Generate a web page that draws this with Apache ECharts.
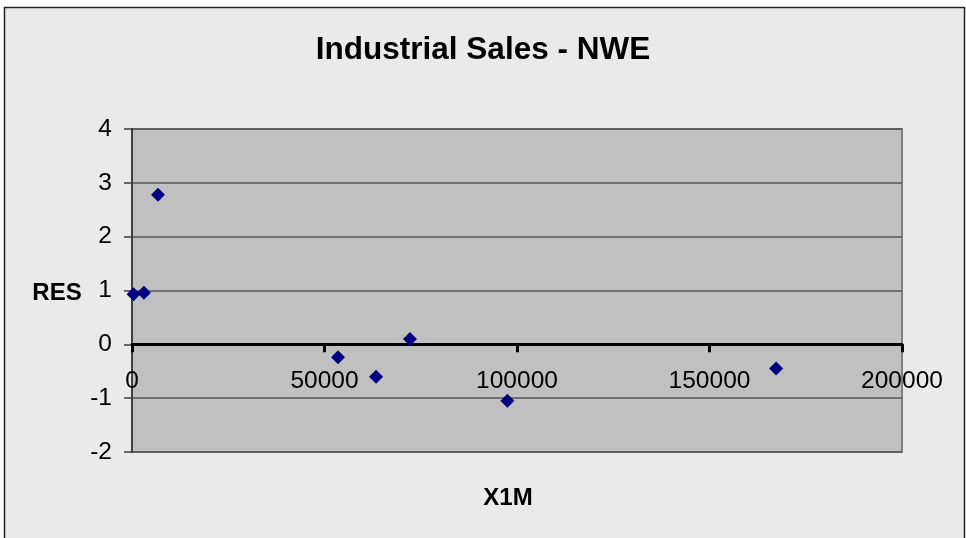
<!DOCTYPE html>
<html>
<head>
<meta charset="utf-8">
<script src="https://cdn.jsdelivr.net/npm/echarts@6/dist/echarts.min.js"></script>
<style>
html,body{margin:0;padding:0;background:#ffffff;}
#chart{width:966px;height:538px;}
</style>
</head>
<body>
<div id="chart"></div>
<script>
// Data
const x1m = [400, 3100, 6750, 53500, 63400, 72200, 97500, 167300];
const res = [0.93, 0.96, 2.78, -0.24, -0.60, 0.10, -1.05, -0.45];
const titleText = 'Industrial Sales - NWE';
const xName = 'X1M';
const yName = 'RES';

const points = x1m.map((x, i) => [x, res[i]]);

const yMin = -2, yMax = 4;
const gridTop = 129, gridBottom = 86, chartH = 538;
const plotH = chartH - gridTop - gridBottom;
const zeroOffset = -plotH * (0 - yMin) / (yMax - yMin);

const chart = echarts.init(document.getElementById('chart'));
const font = 'Liberation Sans, Arial, sans-serif';
chart.setOption({
  animation: false,
  backgroundColor: '#ffffff',
  graphic: [{
    type: 'rect',
    z: -10,
    shape: {x: 4.5, y: 7.5, width: 960, height: 540},
    style: {fill: '#eaeaea', stroke: '#222222', lineWidth: 1.5}
  }],
  title: [
    {text: titleText, left: 'center', top: 29,
     textStyle: {fontFamily: font, fontSize: 31.5, fontWeight: 'bold', color: '#000'}},
    {text: xName, left: 503, top: 481, textAlign: 'center',
     textStyle: {fontFamily: font, fontSize: 24, fontWeight: 'bold', color: '#000'}},
    {text: yName, left: 52, top: 276, textAlign: 'center',
     textStyle: {fontFamily: font, fontSize: 24, fontWeight: 'bold', color: '#000'}}
  ],
  grid: {
    left: 132, top: gridTop, right: 64, bottom: gridBottom,
    show: true, backgroundColor: '#c0c0c0', borderColor: '#808080', borderWidth: 2
  },
  xAxis: {
    type: 'value', min: 0, max: 200000, interval: 50000,
    offset: zeroOffset,
    axisLine: {show: true, onZero: false, lineStyle: {color: '#000', width: 3}},
    axisTick: {show: true, length: 8, lineStyle: {color: '#000', width: 3}},
    axisLabel: {fontFamily: font, fontSize: 24.5, color: '#000', margin: 24,
                formatter: v => String(v)},
    splitLine: {show: false}
  },
  yAxis: {
    type: 'value', min: yMin, max: yMax, interval: 1,
    axisLine: {show: true, onZero: false, lineStyle: {color: '#404040', width: 2}},
    axisTick: {show: true, length: 8, lineStyle: {color: '#404040', width: 1.5}},
    axisLabel: {fontFamily: font, fontSize: 24.5, color: '#000', margin: 20},
    splitLine: {show: true, lineStyle: {color: '#555555', width: 1.5}}
  },
  series: [{
    type: 'scatter',
    data: points,
    symbol: 'diamond',
    symbolSize: 14,
    itemStyle: {color: '#000080', opacity: 1}
  }]
});
</script>
</body>
</html>
